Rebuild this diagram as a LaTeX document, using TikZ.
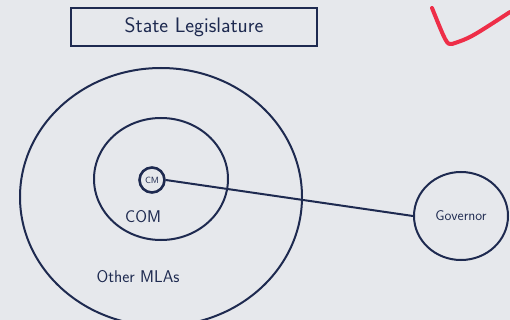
\documentclass[tikz,border=0pt]{standalone}
\usetikzlibrary{shapes.geometric}
\begin{document}
\begin{tikzpicture}[x=1pt,y=-1pt,
  ink/.style={draw=inkc,line width=2pt},
  lbl/.style={text=inkc,font=\sffamily\fontsize{17}{20}\selectfont},
]
\definecolor{inkc}{HTML}{1E2A50}
\definecolor{paper}{HTML}{E6E8EC}
\definecolor{tick}{HTML}{EE2E48}
\fill[paper] (0,0) rectangle (510,320);
\useasboundingbox (0,0) rectangle (510,320);
% title box
\node[ink,rectangle,minimum width=246pt,minimum height=38pt,lbl,font=\sffamily\fontsize{21}{24}\selectfont] (title) at (194,27) {State Legislature};
% outer ellipse
\node[ink,ellipse,minimum width=282pt,minimum height=258pt,inner sep=0pt] (outer) at (161,197) {};
% middle ellipse
\node[ink,ellipse,minimum width=134pt,minimum height=122pt,inner sep=0pt] (mid) at (161,179) {};
% CM
\node[ink,circle,line width=2.6pt,minimum size=25pt,inner sep=0pt,lbl,font=\sffamily\small] (cm) at (152,180) {CM};
% governor
\node[ink,ellipse,minimum width=94pt,minimum height=88pt,inner sep=0pt,lbl,font=\sffamily\fontsize{14}{16}\selectfont] (gov) at (461,216) {Governor};
\draw[ink] (cm.east) -- (gov.west);
\node[lbl] (com) at (143,217) {COM};
\node[lbl] (mla) at (138,277) {Other MLAs};
% red tick
\coordinate (t1) at (432,8);
\coordinate (t2) at (452,44);
\coordinate (t3) at (510,12);
\draw[tick,line width=4pt,line cap=round,line join=round] (t1) .. controls (445,40) and (447,46) .. (t2) .. controls (470,38) .. (t3);
\end{tikzpicture}
\end{document}
